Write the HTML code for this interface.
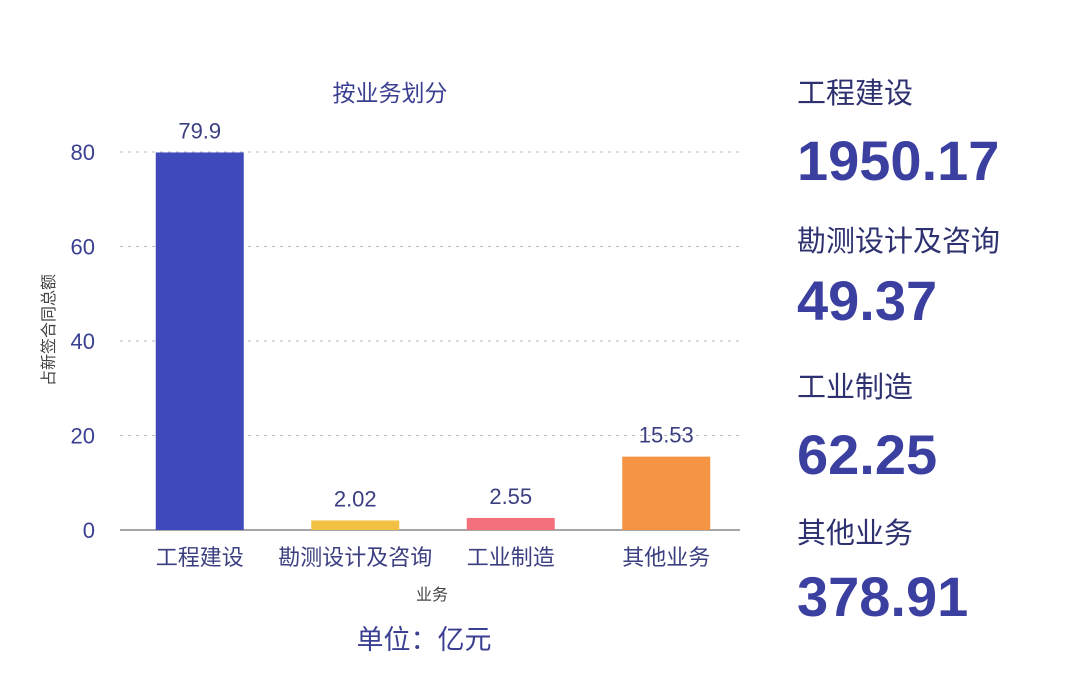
<!DOCTYPE html>
<html><head><meta charset="utf-8"><style>
body{margin:0;background:#fff;width:1080px;height:679px;overflow:hidden;font-family:"Liberation Sans","Noto Sans CJK SC",sans-serif;}
.r{position:absolute;left:797px;color:#3b3f91;}
.lab{font-size:29px;color:#2e3170;}
.big{font-size:56px;font-weight:bold;color:#3b3fa0;}
</style></head><body>
<svg id="chart" width="780" height="679" style="position:absolute;left:0;top:0" font-family="Liberation Sans, Noto Sans CJK SC, sans-serif"></svg>
<div class="r lab" style="top:70px">工程建设</div>
<div class="r big" style="top:128px">1950.17</div>
<div class="r lab" style="top:218px">勘测设计及咨询</div>
<div class="r big" style="top:268px">49.37</div>
<div class="r lab" style="top:364px">工业制造</div>
<div class="r big" style="top:422px">62.25</div>
<div class="r lab" style="top:510px">其他业务</div>
<div class="r big" style="top:564px">378.91</div>
<script>
const categories=["工程建设","勘测设计及咨询","工业制造","其他业务"];
const values=[79.9,2.02,2.55,15.53];
const valueLabels=["79.9","2.02","2.55","15.53"];
const colors=["#3f49bb","#f2c144","#f2717b","#f59443"];
const ticks=[0,20,40,60,80];
const svg=document.getElementById('chart');
const NS="http://www.w3.org/2000/svg";
const x0=120,x1=740,yBase=530,yTop=152,vMax=80;
const y=v=>yBase-(yBase-yTop)*v/vMax;
const band=(x1-x0+2)/categories.length;
const xc=i=>x0+2+band*(i+0.5);
function mk(t,a,txt){const e=document.createElementNS(NS,t);for(const k in a)e.setAttribute(k,a[k]);if(txt!=null)e.textContent=txt;svg.appendChild(e);return e;}
ticks.forEach(t=>{
  if(t>0){const g=mk('line',{x1:x0,x2:x1,y1:y(t),y2:y(t),stroke:'#bbb','stroke-dasharray':'3,5'});
  
  }
  const l=mk('text',{x:95,y:y(t)+8,'text-anchor':'end','font-size':22,fill:'#3b3f91'},t);
  
  
});
const ax=mk('line',{x1:x0,x2:x1,y1:yBase,y2:yBase,stroke:'#888','stroke-width':1.5});


values.forEach((v,i)=>{
  const w=88;
  const b=mk('rect',{x:xc(i)-w/2,y:y(v),width:w,height:yBase-y(v),fill:colors[i]});
  
  
  const t=mk('text',{x:xc(i),y:y(v)-14,'text-anchor':'middle','font-size':22,fill:'#3b3f80'},valueLabels[i]);
  
  
  const c=mk('text',{x:xc(i),y:565,'text-anchor':'middle','font-size':22,fill:'#3b3f80'},categories[i]);
  
  
});
const tt=mk('text',{x:390,y:101,'text-anchor':'middle','font-size':23,fill:'#3b3f91'},'按业务划分');


const xt=mk('text',{x:432,y:600,'text-anchor':'middle','font-size':16,fill:'#444'},'业务');


const yt=mk('text',{x:0,y:0,'text-anchor':'middle','font-size':16,fill:'#444',transform:'translate(54,330) rotate(-90)'},'占新签合同总额');


const un=mk('text',{x:424,y:649,'text-anchor':'middle','font-size':27,fill:'#3b3f91'},'单位：亿元');


</script>
</body></html>
